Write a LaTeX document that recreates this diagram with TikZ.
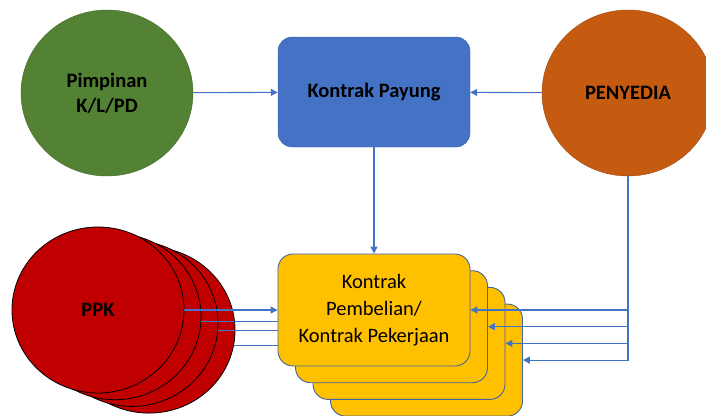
\documentclass[tikz,border=0pt]{standalone}
\usepackage{fontspec}
\setmainfont{Carlito}
\usetikzlibrary{shapes.geometric,arrows.meta}
\definecolor{vert}{HTML}{548235}
\definecolor{bleu}{HTML}{4472C4}
\definecolor{orange}{HTML}{C55A11}
\definecolor{rouge}{HTML}{C00000}
\definecolor{jaune}{HTML}{FFC000}
\definecolor{bord}{HTML}{41649F}
\begin{document}
\begin{tikzpicture}[x=1pt,y=-1pt,
    rond/.style={ellipse,inner sep=0pt,minimum width=172pt,minimum height=166pt,align=center,
      font=\bfseries\fontsize{20.5}{25}\selectfont},
    boite/.style={draw=bord,line width=0.9pt,rounded corners=15pt,minimum width=192pt,minimum height=112pt,
      inner sep=0pt,align=center,fill=jaune,font=\fontsize{20.5}{27}\selectfont},
    fl/.style={draw=bleu,line width=1.1pt,-{Triangle[length=7pt,width=7pt]}}]
    \useasboundingbox (0,0) rectangle (706,415);
    % ligne du haut
    \node[rond,fill=vert,draw=vert!80!black] (pimpinan) at (107,93) {Pimpinan\\K/L/PD};
    \node[draw=bleu!85!black,fill=bleu,rounded corners=14pt,minimum width=192pt,minimum height=110pt,
      font=\bfseries\fontsize{20.5}{25}\selectfont] (payung) at (374,92) {Kontrak Payung};
    \node[rond,fill=orange,draw=orange!80!black] (penyedia) at (628,93) {PENYEDIA};
    \draw[fl] (pimpinan) -- (payung);
    \draw[fl] (penyedia) -- (payung);
    % pile PPK et pile de contrats
    \foreach \i in {4,3,2,1}
        \node[rond,fill=rouge,draw=black,line width=0.8pt] (ppk\i) at ({98+17*(\i-1)},{310+6.7*(\i-1)}) {};
    \node[font=\bfseries\fontsize{20.5}{25}\selectfont] at (ppk1) {PPK};
    \foreach \i in {4,3,2}
        \node[boite] (kontrak\i) at ({374+17.5*(\i-1)},{310+16.7*(\i-1)}) {};
    \foreach \i/\a in {2/-3,3/-5.5,4/-10} {
        \draw[fl] (ppk\i.\a) -- (ppk\i.\a -| kontrak\i.west);
        \draw[fl] (penyedia.south) |- (kontrak\i.east);
    }
    \node[boite] (kontrak1) at (374,310) {Kontrak\\Pembelian/\\Kontrak Pekerjaan};
    \draw[fl] (ppk1.0) -- (kontrak1.west);
    \draw[fl] (penyedia.south) |- (kontrak1.east);
    \draw[fl] (payung) -- (kontrak1);
\end{tikzpicture}
\end{document}
